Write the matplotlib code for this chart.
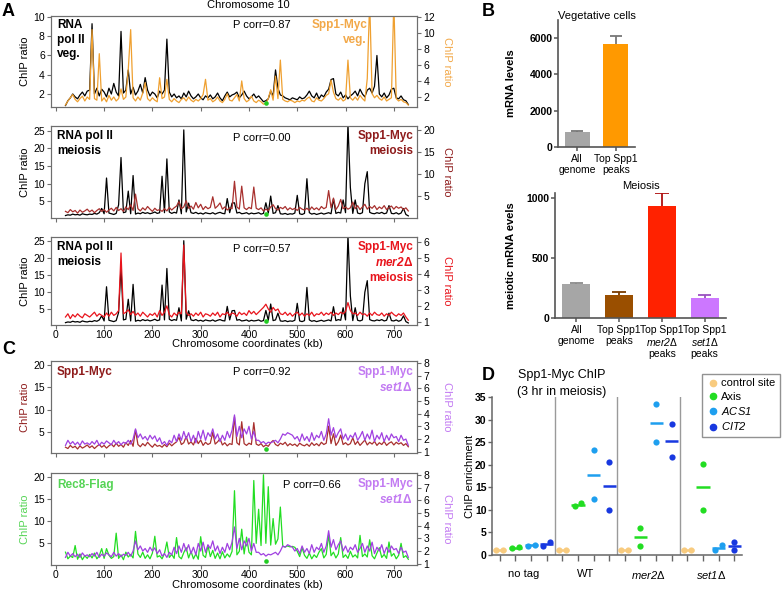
import numpy as np
import matplotlib
matplotlib.use('Agg')
import matplotlib.pyplot as plt
from matplotlib.transforms import blended_transform_factory
from matplotlib.lines import Line2D

plt.rcParams['font.family'] = ['Liberation Sans', 'DejaVu Sans']
plt.rcParams['mathtext.fontset'] = 'custom'
plt.rcParams['mathtext.rm'] = 'Liberation Sans:italic'
plt.rcParams['mathtext.it'] = 'Liberation Sans:italic'
plt.rcParams['mathtext.bf'] = 'Liberation Sans:italic:bold'

# ---------------- DATA ----------------
kb_start, kb_stop, kb_step = 20, 730, 5
kb = np.arange(kb_start, kb_stop + 1, kb_step)
centromere_kb = 436

polII_veg = [0.8, 1.3, 1.6, 2.0, 1.7, 1.5, 1.9, 2.2, 1.8, 2.3,
             2.4, 9.3, 2.0, 2.6, 1.8, 2.5, 2.2, 1.7, 2.6, 2.0,
             3.1, 2.2, 1.8, 8.5, 2.1, 2.4, 4.5, 2.0, 2.7, 1.9,
             2.3, 3.0, 2.1, 3.7, 2.4, 1.8, 2.2, 2.0, 1.6, 2.3,
             2.0, 2.4, 7.7, 2.2, 1.7, 2.0, 1.6, 1.8, 1.5, 2.1,
             1.7, 2.3, 1.8, 1.5, 1.7, 2.0, 1.6, 1.4, 1.8, 1.6,
             1.9, 1.5, 1.7, 2.1, 1.6, 1.3, 1.8, 2.2, 1.7, 1.9,
             2.0, 2.2, 1.6, 1.9, 2.3, 1.8, 1.5, 1.7, 2.0, 1.6,
             1.8, 1.5, 1.2, 1.3, 1.5, 2.3, 1.8, 4.5, 2.6, 1.9,
             1.8, 1.6, 1.5, 1.4, 1.6, 1.5, 1.4, 1.7, 1.5, 1.6,
             1.9, 2.3, 1.8, 1.6, 2.1, 1.5, 1.9, 1.7, 2.2, 2.5,
             3.5, 3.6, 2.0, 1.8, 2.2, 1.6, 1.9, 1.5, 1.8, 2.0,
             2.3, 1.8, 2.5, 2.0, 1.7, 2.4, 2.6, 2.1, 2.8, 6.0,
             2.0, 1.7, 2.1, 1.6, 1.9, 2.5, 2.6, 1.6, 1.5, 1.8,
             1.4, 1.3, 0.9]

spp1_veg = [1.0, 1.5, 1.9, 2.3, 1.7, 1.4, 1.8, 2.1, 1.5, 2.0,
            1.7, 10.4, 1.8, 1.6, 7.4, 1.5, 1.9, 1.4, 2.2, 1.6,
            2.0, 1.5, 1.8, 3.0, 1.7, 2.0, 5.4, 10.4, 1.9, 1.5,
            2.0, 1.6, 2.5, 3.8, 1.8, 1.5, 1.9, 1.6, 1.4, 4.4,
            1.8, 2.0, 4.2, 1.7, 1.4, 1.8, 1.5, 1.3, 1.7, 1.9,
            1.5, 2.0, 1.6, 1.4, 1.7, 1.5, 1.8, 2.3, 4.2, 1.6,
            1.8, 1.4, 1.6, 2.0, 1.5, 1.3, 1.7, 2.4, 1.6, 1.5,
            1.9, 2.3, 1.5, 4.0, 1.8, 1.4, 1.6, 2.1, 1.5, 1.3,
            1.6, 1.4, 1.1, 1.2, 1.8, 2.9, 1.6, 4.6, 1.8, 6.6,
            1.7, 1.5, 1.4, 1.6, 1.5, 1.3, 1.5, 1.4, 1.6, 1.5,
            1.8, 2.0, 1.5, 1.4, 1.9, 1.6, 1.5, 1.8, 2.2, 2.4,
            4.1, 2.6, 1.8, 1.6, 1.9, 1.5, 1.7, 6.6, 1.9, 1.6,
            2.0, 1.6, 2.2, 1.8, 1.5, 4.3, 14.0, 2.4, 1.9, 2.2,
            1.8, 1.6, 2.0, 1.5, 1.7, 1.9, 14.0, 1.8, 1.5, 1.7,
            1.4, 1.3, 1.0]

polII_meiosis = [1.0, 1.2, 1.1, 1.4, 1.2, 1.3, 1.1, 1.5, 1.3, 1.2,
                 1.4, 1.3, 1.6, 1.4, 1.8, 3.0, 1.5, 11.6, 1.7, 1.5,
                 1.3, 1.6, 4.0, 17.4, 1.8, 2.0, 7.9, 1.5, 12.3, 1.4,
                 1.7, 1.5, 1.9, 1.6, 1.8, 1.5, 1.7, 2.0, 1.6, 1.8,
                 12.1, 1.8, 17.0, 2.0, 1.6, 1.9, 1.7, 5.4, 1.5, 25.2,
                 2.0, 4.5, 1.8, 1.6, 1.9, 1.5, 1.7, 1.4, 1.8, 1.6,
                 1.5, 1.8, 1.4, 1.7, 1.9, 1.6, 1.5, 5.8, 1.8, 4.5,
                 4.6, 1.7, 1.9, 1.5, 1.6, 1.8, 1.4, 1.7, 1.5, 1.6,
                 1.8, 1.4, 1.6, 4.6, 1.7, 6.5, 1.6, 1.8, 3.8, 1.5,
                 1.4, 1.6, 1.3, 1.5, 1.4, 1.7, 6.7, 1.5, 1.3, 1.6,
                 11.4, 1.8, 1.4, 1.6, 1.3, 1.5, 1.7, 1.4, 1.6, 1.8,
                 1.5, 5.7, 1.6, 1.9, 1.7, 5.4, 1.8, 27.0, 8.9, 1.6,
                 5.4, 1.7, 1.5, 1.8, 10.0, 13.4, 1.9, 1.6, 1.5, 1.8,
                 1.6, 1.9, 1.5, 1.7, 3.8, 1.6, 1.5, 1.8, 1.4, 1.7,
                 3.0, 1.3, 0.9]

spp1_meiosis = [1.6, 1.3, 2.0, 1.5, 1.8, 1.2, 1.9, 1.4, 1.7, 2.1,
                1.5, 1.9, 1.3, 1.8, 2.2, 1.6, 2.0, 1.4, 1.9, 2.3,
                1.7, 2.5, 1.8, 2.2, 1.6, 2.6, 2.0, 3.1, 1.8, 5.5,
                2.2, 1.7, 2.4, 1.9, 2.7, 2.1, 1.6, 2.3, 1.8, 2.0,
                1.6, 2.2, 1.7, 2.5, 1.9, 2.4, 2.8, 3.8, 2.2, 2.6,
                4.0, 2.3, 2.8, 2.1, 3.6, 2.4, 3.2, 2.0, 2.7, 2.2,
                2.5, 4.9, 2.3, 2.8, 3.5, 2.1, 2.6, 1.9, 2.4, 2.2,
                8.4, 2.6, 2.1, 7.3, 2.4, 2.0, 2.5, 2.2, 7.1, 2.3,
                2.0, 2.4, 1.7, 2.1, 1.8, 2.6, 3.1, 2.2, 1.9, 2.5,
                2.2, 2.7, 1.9, 2.4, 2.0, 2.3, 1.8, 2.5, 2.1, 1.9,
                2.3, 1.8, 2.6, 2.0, 2.4, 1.9, 2.7, 2.2, 2.5, 6.3,
                2.4, 4.6, 2.0, 2.8, 4.3, 2.2, 2.6, 2.1, 2.4, 3.7,
                2.2, 2.9, 2.0, 2.6, 3.2, 2.1, 2.7, 2.3, 2.9, 2.0,
                2.6, 2.2, 2.9, 2.0, 2.5, 2.8, 2.1, 2.7, 2.3, 2.6,
                2.0, 2.4, 1.7]

spp1_mer2 = [1.3, 1.5, 1.2, 1.45, 1.3, 1.5, 1.35, 1.25, 1.5, 1.4,
             1.3, 1.45, 1.6, 1.35, 1.5, 1.4, 1.3, 1.55, 1.35, 1.6,
             1.4, 1.5, 1.7, 5.3, 1.5, 1.6, 1.75, 1.45, 1.65, 1.4,
             1.55, 1.35, 1.6, 1.45, 1.3, 1.5, 1.4, 1.55, 1.3, 1.7,
             1.4, 1.6, 2.0, 1.45, 1.3, 1.55, 1.4, 1.6, 1.5, 5.8,
             1.6, 1.4, 1.5, 1.35, 1.55, 1.4, 1.6, 1.3, 1.5, 1.45,
             1.35, 1.55, 1.4, 1.6, 1.3, 1.5, 1.45, 1.6, 1.4, 1.55,
             1.5, 1.35, 1.6, 1.45, 1.55, 1.4, 1.7, 1.5, 1.65, 1.45,
             1.6, 1.75, 1.9, 2.1, 1.8, 1.6, 1.9, 1.7, 1.8, 1.5,
             1.45, 1.6, 1.4, 1.55, 1.35, 1.5, 1.6, 1.4, 1.55, 1.35,
             1.5, 1.4, 1.6, 1.35, 1.5, 1.45, 1.6, 1.4, 1.55, 1.45,
             1.6, 1.4, 1.55, 1.45, 1.6, 1.5, 1.65, 2.2, 1.7, 1.5,
             1.55, 1.4, 1.6, 1.45, 1.5, 1.35, 1.55, 1.4, 1.6, 1.45,
             1.4, 1.55, 1.35, 1.5, 1.4, 1.6, 1.45, 1.35, 1.5, 1.4,
             1.55, 1.3, 1.1]

spp1_set1 = [1.5, 1.9, 1.6, 1.8, 1.55, 1.75, 1.5, 1.85, 1.6, 1.7,
             1.55, 1.8, 1.6, 1.9, 1.5, 1.75, 1.6, 1.85, 1.7, 1.55,
             1.9, 1.6, 1.8, 1.55, 1.75, 1.65, 1.9, 1.6, 2.0, 2.8,
             2.1, 2.4, 2.0, 2.2, 1.9, 2.3, 2.0, 2.25, 1.8, 2.1,
             1.6, 1.8, 1.5, 1.9, 1.7, 2.3, 1.8, 2.4, 1.9, 2.6,
             2.0, 2.5, 1.8, 2.3, 1.7, 2.6, 2.0, 2.7, 1.9, 2.5,
             2.2, 2.8, 2.0, 2.4, 1.8, 2.3, 1.9, 2.6, 2.1, 2.7,
             3.9, 2.2, 3.0, 2.1, 2.8, 2.4, 3.0, 2.0, 2.6, 1.9,
             1.9, 1.7, 1.8, 1.6, 1.75, 1.7, 1.8, 1.9, 1.7, 2.0,
             2.4, 2.3, 2.5, 2.4, 2.3, 2.0, 2.2, 1.8, 2.4, 1.9,
             2.2, 1.8, 2.5, 1.9, 2.3, 2.1, 2.6, 1.9, 2.4, 3.6,
             2.3, 2.9, 2.1, 2.5, 2.8, 2.0, 2.4, 1.9, 2.3, 2.1,
             2.5, 1.9, 2.2, 2.6, 1.9, 2.4, 2.0, 2.7, 1.8, 2.3,
             2.0, 2.5, 1.8, 2.3, 1.9, 2.4, 2.1, 2.2, 1.8, 2.3,
             1.9, 2.0, 1.5]

rec8 = [3.0, 1.5, 2.1, 1.8, 4.5, 1.4, 2.6, 1.3, 2.2, 1.6,
        2.5, 1.7, 2.8, 1.5, 2.2, 3.8, 1.6, 3.8, 2.3, 1.6,
        2.0, 7.3, 1.6, 2.4, 1.3, 3.0, 1.9, 2.5, 1.7, 7.7,
        2.6, 1.8, 3.0, 1.6, 2.4, 1.5, 2.8, 6.6, 1.9, 2.2,
        1.5, 2.7, 5.3, 1.8, 2.5, 1.6, 6.3, 2.0, 1.5, 2.9,
        4.0, 1.7, 3.2, 1.5, 2.6, 1.4, 6.5, 2.3, 1.8, 4.5,
        2.0, 3.4, 1.6, 2.8, 1.5, 3.1, 1.7, 2.6, 1.9, 3.2,
        16.9, 2.4, 3.2, 8.2, 2.6, 6.4, 3.0, 2.4, 19.2, 5.0,
        12.7, 4.5, 20.5, 5.0, 17.8, 4.6, 10.6, 4.8, 6.0, 13.2,
        4.3, 4.2, 4.4, 4.2, 4.3, 4.1, 3.2, 2.0, 4.0, 2.3,
        1.6, 2.8, 1.5, 2.4, 1.8, 3.0, 3.8, 1.7, 2.5, 6.9,
        2.2, 3.0, 1.7, 2.6, 6.3, 1.8, 2.4, 1.6, 3.2, 1.9,
        2.4, 1.7, 6.8, 2.0, 2.6, 1.9, 5.8, 2.2, 1.5, 2.8,
        4.0, 1.8, 2.5, 1.6, 5.3, 2.1, 2.7, 1.5, 2.3, 5.0,
        1.8, 2.2, 1.4]

pcorr = ['0.87', '0.00', '0.57', '0.92', '0.66']

veg_labels = ['All\ngenome', 'Top Spp1\npeaks']
veg_mrna = [850, 5650]
veg_err = [30, 450]

mei_labels = ['All\ngenome', 'Top Spp1\npeaks', 'Top Spp1\n$\\mathrm{mer2}$\u0394\npeaks',
              'Top Spp1\n$\\mathrm{set1}$\u0394\npeaks']
mei_mrna = [285, 195, 935, 170]
mei_err = [8, 25, 105, 20]

groups = ['no tag', 'WT', '$\\mathrm{mer2}$\u0394', '$\\mathrm{set1}$\u0394']
sites = ['control site', 'Axis', '$\\mathrm{ACS1}$', '$\\mathrm{CIT2}$']
control_vals = [[1.0, 1.0], [1.0, 1.0], [1.0, 1.0], [1.0, 1.0]]
axis_vals = [[1.5, 1.8], [10.8, 11.5], [5.9, 2.0], [20.1, 9.9]]
acs1_vals = [[2.0, 2.3], [23.2, 12.3], [33.4, 25.0], [1.0, 2.3]]
cit2_vals = [[2.0, 2.8], [20.6, 10.0], [29.0, 21.7], [2.8, 1.1]]

# ---------------- LAYOUT ----------------
W, H = 784, 591
fig = plt.figure(figsize=(W / 100, H / 100), dpi=100)


def box(l, t, r, b):
    return [l / W, 1 - b / H, (r - l) / W, (b - t) / H]


def ftext(x, y, s, **kw):
    return fig.text(x / W, 1 - y / H, s, **kw)


BLACK = '#000000'
ORANGE = '#EFA030'
ORANGE_T = '#F2A848'
DRED = '#A8302E'
DRED_T = '#8E1B1B'
RED = '#E8141C'
PURPLE = '#A040E0'
PURPLE_T = '#C27AF2'
GREEN = '#22DD22'
GREEN_T = '#55D455'
SPINE = '#6E6E6E'

xt = np.arange(0, 701, 100)


def track(top, bottom, ly, lc, llim, lticks, ry, rc, rlim, rticks, xlabels):
    ax = fig.add_axes(box(51, top, 417, bottom))
    ax.plot(kb, ly, color=lc, lw=0.9)
    ax.set_xlim(-10, 748)
    ax.set_ylim(*llim)
    ax.set_yticks(lticks)
    ax.set_xticks(xt)
    if not xlabels:
        ax.set_xticklabels([])
    ax2 = ax.twinx()
    ax2.plot(kb, ry, color=rc, lw=0.9)
    ax2.set_ylim(*rlim)
    ax2.set_yticks(rticks)
    for a in (ax, ax2):
        for s in a.spines.values():
            s.set_color(SPINE)
            s.set_linewidth(0.8)
        a.tick_params(direction='out', length=3, width=0.8, color=SPINE,
                      labelsize=7.5, pad=1.5)
    ax.tick_params(axis='x', pad=0.5)
    tr = blended_transform_factory(ax2.transData, ax2.transAxes)
    ax2.scatter([centromere_kb], [0.045], transform=tr, color='#22CC22', s=11,
                zorder=6, clip_on=False, linewidths=0)
    return ax, ax2


def ylab(x, top, bottom, color, rot=90):
    ftext(x, (top + bottom) / 2, 'ChIP ratio', color=color, rotation=rot,
          ha='center', va='center', fontsize=8)


# ---- Panel A ----
ftext(2, 12, 'A', fontsize=13, fontweight='bold', va='center')
ftext(248, 5, 'Chromosome 10', fontsize=8, ha='center', va='center')

track(16, 107, polII_veg, BLACK, (0.65, 10.1), [2, 4, 6, 8, 10],
      spp1_veg, ORANGE, (0.75, 12.1), [2, 4, 6, 8, 10, 12], False)
ylab(25, 16, 107, BLACK)
ylab(447, 16, 107, ORANGE_T, 270)
ftext(57, 19, 'RNA\npol II\nveg.', fontsize=8.5, fontweight='bold', va='top',
      linespacing=1.3)
ftext(262, 25, 'P corr=' + pcorr[0], fontsize=8, ha='center', va='center')
ftext(367, 19, 'Spp1-Myc\nveg.', fontsize=8.5, fontweight='bold', va='top',
      ha='right', color=ORANGE_T, multialignment='right', linespacing=1.3)

track(126, 218, polII_meiosis, BLACK, (0.3, 26.3), [5, 10, 15, 20, 25],
      spp1_meiosis, DRED, (0.1, 20.9), [5, 10, 15, 20], False)
ylab(25, 126, 218, BLACK)
ylab(447, 126, 218, DRED_T, 270)
ftext(57, 130, 'RNA pol II\nmeiosis', fontsize=8.5, fontweight='bold', va='top',
      linespacing=1.3)
ftext(262, 138, 'P corr=' + pcorr[1], fontsize=8, ha='center', va='center')
ftext(413, 130, 'Spp1-Myc\nmeiosis', fontsize=8.5, fontweight='bold', va='top',
      ha='right', color=DRED_T, multialignment='right', linespacing=1.3)

track(237, 325, polII_meiosis, BLACK, (0.3, 26.3), [5, 10, 15, 20, 25],
      spp1_mer2, RED, (0.8, 6.3), [1, 2, 3, 4, 5, 6], True)
ylab(25, 237, 325, BLACK)
ylab(447, 237, 325, RED, 270)
ftext(57, 241, 'RNA pol II\nmeiosis', fontsize=8.5, fontweight='bold', va='top',
      linespacing=1.3)
ftext(262, 249, 'P corr=' + pcorr[2], fontsize=8, ha='center', va='center')
ftext(413, 241, 'Spp1-Myc\n$\\mathbf{mer2}$\u0394\nmeiosis', fontsize=8.5,
      fontweight='bold', va='top', ha='right', color=RED,
      multialignment='right', linespacing=1.3)
ftext(247, 344, 'Chromosome coordinates (kb)', fontsize=8, ha='center',
      va='center')

# ---- Panel C ----
ftext(2, 350, 'C', fontsize=13, fontweight='bold', va='center')
track(361, 453, spp1_meiosis, DRED, (0.3, 20.9), [5, 10, 15, 20],
      spp1_set1, PURPLE, (0.9, 8.15), [1, 2, 3, 4, 5, 6, 7, 8], False)
ylab(25, 361, 453, DRED_T)
ylab(447, 361, 453, PURPLE_T, 270)
ftext(57, 366, 'Spp1-Myc', fontsize=8.5, fontweight='bold', va='top',
      color=DRED_T)
ftext(262, 372, 'P corr=' + pcorr[3], fontsize=8, ha='center', va='center')
ftext(413, 366, 'Spp1-Myc\n$\\mathbf{set1}$\u0394', fontsize=8.5,
      fontweight='bold', va='top', ha='right', color=PURPLE_T,
      multialignment='right', linespacing=1.3)

track(473, 565, rec8, GREEN, (0.1, 20.9), [5, 10, 15, 20],
      spp1_set1, PURPLE, (0.9, 8.15), [1, 2, 3, 4, 5, 6, 7, 8], True)
ylab(25, 473, 565, GREEN_T)
ylab(447, 473, 565, PURPLE_T, 270)
ftext(57, 479, 'Rec8-Flag', fontsize=8.5, fontweight='bold', va='top',
      color=GREEN_T)
ftext(312, 485, 'P corr=' + pcorr[4], fontsize=8, ha='center', va='center')
ftext(413, 478, 'Spp1-Myc\n$\\mathbf{set1}$\u0394', fontsize=8.5,
      fontweight='bold', va='top', ha='right', color=PURPLE_T,
      multialignment='right', linespacing=1.3)
ftext(247, 585, 'Chromosome coordinates (kb)', fontsize=8, ha='center',
      va='center')


# ---- Panel B ----
def bar_panel(rect, labels, vals, errs, colors, ecolors, ylim, yticks, title,
              ylabel, title_y, ylabel_x):
    ax = fig.add_axes(box(*rect))
    x = np.arange(len(vals))
    ax.bar(x, vals, width=0.66, color=colors, zorder=2)
    for xi, v, e, ec in zip(x, vals, errs, ecolors):
        ax.vlines(xi, v, v + e, color=ec, lw=1.3, zorder=1)
        ax.hlines(v + e, xi - 0.16, xi + 0.16, color=ec, lw=1.3, zorder=1)
    ax.set_xlim(-0.5, len(vals) - 0.5)
    ax.set_ylim(*ylim)
    ax.set_yticks(yticks)
    ax.set_xticks(x)
    ax.set_xticklabels(labels, fontsize=7.5, linespacing=1.1)
    for s in ['top', 'right']:
        ax.spines[s].set_visible(False)
    for s in ['left', 'bottom']:
        ax.spines[s].set_color('#555555')
        ax.spines[s].set_linewidth(1.2)
    ax.tick_params(axis='y', direction='out', length=3, width=1.1,
                   color='#555555', labelsize=7.5, pad=1)
    ax.tick_params(axis='x', direction='out', length=3, width=1.1,
                   color='#555555', pad=2)
    for t in ax.get_yticklabels():
        t.set_fontweight('bold')
    l, t, r, b = rect
    ftext((l + r) / 2, title_y, title, fontsize=8, ha='center', va='center')
    ftext(ylabel_x, (t + b) / 2, ylabel, fontsize=8, fontweight='bold',
          rotation=90, ha='center', va='center')
    return ax


ftext(482, 12, 'B', fontsize=13, fontweight='bold', va='center')
bar_panel((558, 20, 635, 147), veg_labels, veg_mrna, veg_err,
          ['#A6A6A6', '#FF9900'], ['#777777', '#777777'], (0, 7000),
          [0, 2000, 4000, 6000], 'Vegetative cells', 'mRNA levels', 16, 511)
bar_panel((555, 193, 726, 318), mei_labels, mei_mrna, mei_err,
          ['#A6A6A6', '#9A4F00', '#FF2200', '#CC77FF'],
          ['#8A8A8A', '#7A3C00', '#B01010', '#9A50C0'], (0, 1040),
          [0, 500, 1000], 'Meiosis', 'meiotic mRNA evels', 186, 511)

# ---- Panel D ----
ftext(482, 376, 'D', fontsize=13, fontweight='bold', va='center')
ftext(562, 375, 'Spp1-Myc ChIP', fontsize=9, ha='center', va='center')
ftext(562, 392, '(3 hr in meiosis)', fontsize=9, ha='center', va='center')
site_colors = ['#F8CB7F', '#22DD22', '#1E9FEF', '#1838E0']
site_vals = [control_vals, axis_vals, acs1_vals, cit2_vals]
axd = fig.add_axes(box(492, 397, 742, 555))
ng, ns = len(groups), len(sites)
for g in range(ng):
    for k in range(ns):
        v = site_vals[k][g]
        xc = g * ns + k + 0.5
        if abs(v[0] - v[1]) < 1.5:
            xs = [xc - 0.22, xc + 0.22]
        else:
            xs = [xc, xc]
        axd.hlines(np.mean(v), xc - 0.42, xc + 0.42, color=site_colors[k],
                   lw=1.8, zorder=2)
        axd.scatter(xs, v, s=20, color=site_colors[k], zorder=3,
                    linewidths=0, clip_on=False)
for g in range(1, ng):
    axd.axvline(g * ns, color='#9A9A9A', lw=1.0, zorder=1)
axd.set_xlim(0, ng * ns)
axd.set_ylim(0, 35)
axd.set_yticks(np.arange(0, 36, 5))
axd.set_xticks([g * ns + k + 0.5 for g in range(ng) for k in range(ns)])
axd.set_xticklabels([])
for s in ['top', 'right']:
    axd.spines[s].set_visible(False)
for s in ['left', 'bottom']:
    axd.spines[s].set_color('#666666')
    axd.spines[s].set_linewidth(1.1)
axd.tick_params(axis='y', direction='out', length=3, width=1, color='#666666',
                labelsize=7.5, pad=1)
axd.tick_params(axis='x', direction='out', length=4, width=1, color='#666666')
for t in axd.get_yticklabels():
    t.set_fontweight('bold')
for g, name in enumerate(groups):
    axd.text(g * ns + ns / 2, -3.0, name, ha='center', va='top', fontsize=8,
             transform=axd.transData)
ftext(470, 476, 'ChIP enrichment', fontsize=8, rotation=90, ha='center',
      va='center')
handles = [Line2D([], [], marker='o', ls='none', color=c, markersize=4.5)
           for c in site_colors]
fig.legend(handles, sites, loc='upper left', bbox_to_anchor=(702 / W, 1 - 374 / H),
           fontsize=8, frameon=True, fancybox=False, edgecolor='#777777',
           handletextpad=0.1, borderpad=0.4, labelspacing=0.3,
           handlelength=1.2, borderaxespad=0)

fig.savefig('out.png', dpi=100)
